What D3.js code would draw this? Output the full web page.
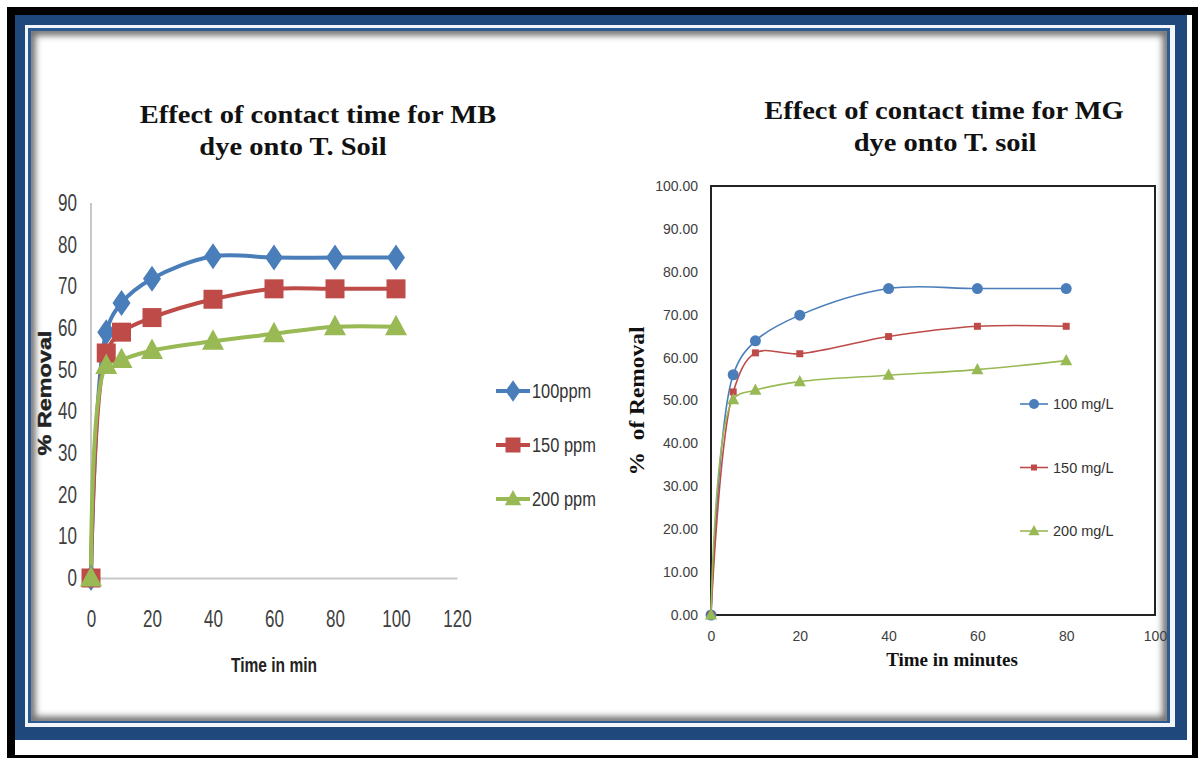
<!DOCTYPE html>
<html>
<head>
<meta charset="utf-8">
<title>Effect of contact time</title>
<script src="https://d3js.org/d3.v7.min.js"></script>
<style>
  body { margin: 0; background: #fff; }
  svg { display: block; }
  .narrow { font-family: "Liberation Sans", Arial, sans-serif; }
  .serif { font-family: "Liberation Serif", "Times New Roman", serif; font-weight: bold; }
  .sans { font-family: "Liberation Sans", Arial, sans-serif; }
</style>
</head>
<body>
<svg width="1198" height="758"></svg>
<script>
// ---- data: left chart (MB dye) ----
var timeMB = [0, 5, 10, 20, 40, 60, 80, 100];
var mb100 = [0, 59, 66, 71.8, 77.2, 76.9, 76.9, 76.9];
var mb150 = [0, 54, 59, 62.5, 66.9, 69.4, 69.4, 69.4];
var mb200 = [0, 51, 52.4, 54.6, 56.8, 58.6, 60.3, 60.3];
var mbLabels = ["100ppm", "150 ppm", "200 ppm"];
var mbXTicks = [0, 20, 40, 60, 80, 100, 120];
var mbYTicks = [0, 10, 20, 30, 40, 50, 60, 70, 80, 90];

// ---- data: right chart (MG dye) ----
var timeMG = [0, 5, 10, 20, 40, 60, 80];
var mg100 = [0, 56.0, 63.9, 69.9, 76.1, 76.1, 76.1];
var mg150 = [0, 52.0, 61.1, 60.9, 64.9, 67.3, 67.3];
var mg200 = [0, 50.2, 52.4, 54.4, 55.9, 57.2, 59.3];
var mgLabels = ["100 mg/L", "150 mg/L", "200 mg/L"];
var mgXTicks = [0, 20, 40, 60, 80, 100];
var mgYTicks = [0, 10, 20, 30, 40, 50, 60, 70, 80, 90, 100];

var colors = ["#4a7ebb", "#be4b48", "#98b954"];

var svg = d3.select("svg");

// squeeze or stretch text horizontally (the originals use narrow / wide faces)
function condense(sel, k) {
  sel.each(function() {
    var w = this.getComputedTextLength();
    d3.select(this).attr("textLength", w * k).attr("lengthAdjust", "spacingAndGlyphs");
  });
}

// ---- picture frame ----
var defs = svg.append("defs");
var blur = defs.append("filter").attr("id", "soft").attr("x", "-5%").attr("y", "-5%").attr("width", "110%").attr("height", "110%");
blur.append("feGaussianBlur").attr("stdDeviation", 3);
defs.append("clipPath").attr("id", "inner")
  .append("rect").attr("x", 31).attr("y", 31).attr("width", 1136).attr("height", 690);

svg.append("rect").attr("x", 7).attr("y", 7).attr("width", 1191).attr("height", 751).attr("fill", "#000");
svg.append("rect").attr("x", 15).attr("y", 15).attr("width", 1177).attr("height", 740).attr("fill", "#fff");
svg.append("rect").attr("x", 15).attr("y", 15).attr("width", 1172).attr("height", 725).attr("fill", "#1f497d");
svg.append("rect").attr("x", 25).attr("y", 25).attr("width", 1150).attr("height", 702).attr("fill", "#f2f5fa");
svg.append("rect").attr("x", 28).attr("y", 28).attr("width", 1142).attr("height", 695).attr("fill", "#2c5a92");
svg.append("rect").attr("x", 31).attr("y", 31).attr("width", 1136).attr("height", 690).attr("fill", "#fff");
svg.append("g").attr("clip-path", "url(#inner)")
  .append("rect").attr("x", 31).attr("y", 31).attr("width", 1136).attr("height", 690)
  .attr("fill", "none").attr("stroke", "#6f6f6f").attr("stroke-width", 9).attr("filter", "url(#soft)");

// ---- helpers ----
function markerPath(kind, s) {
  if (kind === "diamond") return "M0," + (-s * 0.72) + "L" + (s * 0.5) + ",0L0," + (s * 0.72) + "L" + (-s * 0.5) + ",0Z";
  if (kind === "square") return "M" + (-s / 2) + "," + (-s / 2) + "h" + s + "v" + s + "h" + (-s) + "Z";
  if (kind === "triangle") return "M0," + (-s * 0.6) + "L" + (s * 0.55) + "," + (s * 0.42) + "L" + (-s * 0.55) + "," + (s * 0.42) + "Z";
  var r = s / 2;
  return "M" + r + ",0A" + r + "," + r + " 0 1,1 " + (-r) + ",0A" + r + "," + r + " 0 1,1 " + r + ",0Z";
}

// ================= LEFT CHART =================
var xL = d3.scaleLinear().domain([0, 120]).range([91, 457]);
var yL = d3.scaleLinear().domain([0, 90]).range([578, 203]);

var gL = svg.append("g");

gL.append("text").attr("class", "serif title").attr("x", 318).attr("y", 123)
  .attr("text-anchor", "middle").attr("font-size", 25).attr("fill", "#111")
  .text("Effect of contact time for MB");
gL.append("text").attr("class", "serif title").attr("x", 293).attr("y", 155)
  .attr("text-anchor", "middle").attr("font-size", 25).attr("fill", "#111")
  .text("dye onto T. Soil");

var axLY = gL.append("g").attr("transform", "translate(" + xL(0) + ",0)")
  .call(d3.axisLeft(yL).tickValues(mbYTicks).tickSize(0).tickPadding(14));
var axLX = gL.append("g").attr("transform", "translate(0," + yL(0) + ")")
  .call(d3.axisBottom(xL).tickValues(mbXTicks).tickSize(0).tickPadding(33));
[axLY, axLX].forEach(function(a) {
  a.select(".domain").attr("stroke", "#c8c8c8").attr("stroke-width", 2);
  a.selectAll("text").attr("class", "narrow").attr("font-size", 23).attr("fill", "#404040").call(condense, 0.74);
});
axLY.select(".domain").attr("d", "M0," + yL(90) + "V" + yL(0));

gL.append("text").attr("class", "narrow").attr("x", 274).attr("y", 672)
  .attr("text-anchor", "middle").attr("font-size", 21).attr("font-weight", "bold").attr("fill", "#222")
  .text("Time in min").call(condense, 0.74);
gL.append("text").attr("class", "sans")
  .attr("transform", "translate(51,393) rotate(-90)")
  .attr("text-anchor", "middle").attr("font-size", 18).attr("font-weight", "bold")
  .attr("fill", "#222").attr("stroke", "#222").attr("stroke-width", 0.4)
  .text("% Removal").call(condense, 1.3);

var lineL = d3.line().curve(d3.curveCatmullRom.alpha(0.5))
  .x(function(d) { return xL(d[0]); }).y(function(d) { return yL(d[1]); });
var mbSeries = [mb100, mb150, mb200];
var mbMarks = ["diamond", "square", "triangle"];
var mbSizes = [18, 19, 20];

mbSeries.forEach(function(vals, i) {
  var pts = timeMB.map(function(t, j) { return [t, vals[j]]; });
  gL.append("path").datum(pts).attr("d", lineL)
    .attr("fill", "none").attr("stroke", colors[i]).attr("stroke-width", 4);
});
mbSeries.forEach(function(vals, i) {
  var pts = timeMB.map(function(t, j) { return [t, vals[j]]; });
  gL.selectAll(".mk" + i).data(pts).enter().append("path")
    .attr("transform", function(d) { return "translate(" + xL(d[0]) + "," + yL(d[1]) + ")"; })
    .attr("d", markerPath(mbMarks[i], mbSizes[i])).attr("fill", colors[i]);
});

// left legend
var legL = gL.selectAll(".legL").data(mbLabels).enter().append("g")
  .attr("transform", function(d, i) { return "translate(496," + (391 + i * 54) + ")"; });
legL.append("line").attr("x1", 0).attr("x2", 34)
  .attr("stroke", function(d, i) { return colors[i]; }).attr("stroke-width", 4);
legL.append("path").attr("transform", "translate(17,0)")
  .attr("d", function(d, i) { return markerPath(mbMarks[i], 15); })
  .attr("fill", function(d, i) { return colors[i]; });
legL.append("text").attr("class", "narrow").attr("x", 36).attr("y", 7)
  .attr("font-size", 20).attr("fill", "#333").text(function(d) { return d; })
  .call(condense, 0.82);

// ================= RIGHT CHART =================
var xR = d3.scaleLinear().domain([0, 100]).range([711, 1155]);
var yR = d3.scaleLinear().domain([0, 100]).range([615, 186]);

var gR = svg.append("g");

gR.append("text").attr("class", "serif title").attr("x", 944).attr("y", 119)
  .attr("text-anchor", "middle").attr("font-size", 25).attr("fill", "#111")
  .text("Effect of contact time for MG");
gR.append("text").attr("class", "serif title").attr("x", 945).attr("y", 151)
  .attr("text-anchor", "middle").attr("font-size", 25).attr("fill", "#111")
  .text("dye onto T. soil");

svg.selectAll(".title").call(condense, 1.14);

var axRY = gR.append("g").attr("transform", "translate(" + xR(0) + ",0)")
  .call(d3.axisLeft(yR).tickValues(mgYTicks).tickSize(0).tickPadding(13).tickFormat(d3.format(".2f")));
var axRX = gR.append("g").attr("transform", "translate(0," + yR(0) + ")")
  .call(d3.axisBottom(xR).tickValues(mgXTicks).tickSize(0).tickPadding(16));
[axRY, axRX].forEach(function(a) {
  a.select(".domain").remove();
  a.selectAll("text").attr("class", "sans").attr("font-size", 14).attr("fill", "#404040");
});

gR.append("rect").attr("x", xR(0)).attr("y", yR(100))
  .attr("width", xR(100) - xR(0)).attr("height", yR(0) - yR(100))
  .attr("fill", "none").attr("stroke", "#222").attr("stroke-width", 2);

gR.append("text").attr("class", "serif").attr("x", 952).attr("y", 666)
  .attr("text-anchor", "middle").attr("font-size", 19).attr("fill", "#111")
  .text("Time in minutes");
gR.append("text").attr("class", "serif")
  .attr("transform", "translate(644,401) rotate(-90)")
  .attr("text-anchor", "middle").attr("font-size", 20).attr("fill", "#111")
  .attr("xml:space", "preserve")
  .text("%  of Removal").call(condense, 1.17);

var lineR = d3.line().curve(d3.curveCatmullRom.alpha(0.5))
  .x(function(d) { return xR(d[0]); }).y(function(d) { return yR(d[1]); });
var mgSeries = [mg100, mg150, mg200];
var mgMarks = ["circle", "square", "triangle"];
var mgSizes = [11, 7, 11];

mgSeries.forEach(function(vals, i) {
  var pts = timeMG.map(function(t, j) { return [t, vals[j]]; });
  gR.append("path").datum(pts).attr("d", lineR)
    .attr("fill", "none").attr("stroke", colors[i]).attr("stroke-width", 1.6);
});
mgSeries.forEach(function(vals, i) {
  var pts = timeMG.map(function(t, j) { return [t, vals[j]]; });
  gR.selectAll(".mr" + i).data(pts).enter().append("path")
    .attr("transform", function(d) { return "translate(" + xR(d[0]) + "," + yR(d[1]) + ")"; })
    .attr("d", markerPath(mgMarks[i], mgSizes[i])).attr("fill", colors[i]);
});

// right legend
var legR = gR.selectAll(".legR").data(mgLabels).enter().append("g")
  .attr("transform", function(d, i) { return "translate(1020," + (404 + i * 63.5) + ")"; });
legR.append("line").attr("x1", 0).attr("x2", 28)
  .attr("stroke", function(d, i) { return colors[i]; }).attr("stroke-width", 1.6);
legR.append("path").attr("transform", "translate(14,0)")
  .attr("d", function(d, i) { return markerPath(mgMarks[i], mgSizes[i] - 1); })
  .attr("fill", function(d, i) { return colors[i]; });
legR.append("text").attr("class", "sans").attr("x", 33).attr("y", 5)
  .attr("font-size", 14.5).attr("fill", "#333").text(function(d) { return d; });
</script>
</body>
</html>
